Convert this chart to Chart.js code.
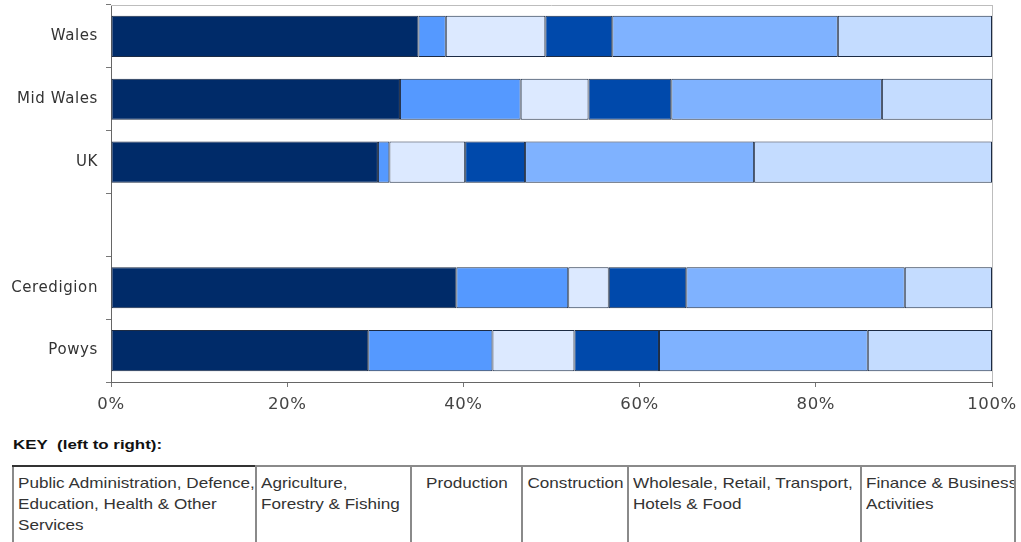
<!DOCTYPE html>
<html>
<head>
<meta charset="utf-8">
<script src="https://cdn.jsdelivr.net/npm/chart.js@4/dist/chart.umd.min.js"></script>
<style>
  html, body { margin:0; padding:0; background:#fff; width:1021px; height:542px; overflow:hidden; font-family:"Liberation Sans", Arial, sans-serif; }
  #wrap { position:absolute; left:0; top:0; width:1021px; height:420px; }
  #key { position:absolute; left:13px; top:437px; font-size:13.5px; font-weight:bold; color:#111; transform:scaleX(1.25); transform-origin:left top; white-space:nowrap; }
  #tbl { position:absolute; left:12px; top:465px; height:90px; border-collapse:collapse; table-layout:fixed; }
  #tbl td { border:2px solid #8a8a8a; border-bottom:none; vertical-align:top; font-size:14.5px; line-height:21px; color:#333; padding:6px 3px 0 4px; height:90px; box-sizing:border-box; overflow:hidden; white-space:nowrap; }
  #tbl td:first-child { border-top-color:#333; }
  #tbl td .t { transform:scaleX(1.18); transform-origin:left top; }
  #tbl td.c .t { text-align:center; transform-origin:center top; }
</style>
</head>
<body>
<div id="wrap"><canvas id="c" width="1021" height="420"></canvas></div>
<div id="key">KEY&nbsp; (left to right):</div>
<table id="tbl"><tr id="row"></tr></table>
<script>
const categories = ["Wales", "Mid Wales", "UK", "", "Ceredigion", "Powys"];
const seriesNames = [
  "Public Administration, Defence, Education, Health & Other Services",
  "Agriculture, Forestry & Fishing",
  "Production",
  "Construction",
  "Wholesale, Retail, Transport, Hotels & Food",
  "Finance & Business Activities"
];
const publicAdmin  = [34.9, 32.8, 30.3, null, 39.2, 29.2];
const agriculture  = [3.1, 13.7, 1.3, null, 12.7, 14.1];
const production   = [11.3, 7.7, 8.6, null, 4.6, 9.3];
const construction = [7.6, 9.4, 6.8, null, 8.8, 9.6];
const wholesale    = [25.6, 23.9, 26.0, null, 24.8, 23.7];
const finance      = [17.5, 12.5, 27.0, null, 9.9, 14.1];
const xTicks = [0, 20, 40, 60, 80, 100];

const colors = ["#002B69", "#5599FF", "#DCE9FF", "#0049AB", "#7FB2FF", "#C4DCFF"];
const seriesData = [publicAdmin, agriculture, production, construction, wholesale, finance];

// legend table
const keyHtml = [
  ["Public Administration, Defence,<br>Education, Health &amp; Other<br>Services", 243, ""],
  ["Agriculture,<br>Forestry &amp; Fishing", 155, ""],
  ["Production", 111, "c"],
  ["Construction", 106, "c"],
  ["Wholesale, Retail, Transport,<br>Hotels &amp; Food", 233, ""],
  ["Finance &amp; Business<br>Activities", 154, ""]
];
const row = document.getElementById("row");
keyHtml.forEach(k => {
  const td = document.createElement("td");
  td.innerHTML = '<div class="t">' + k[0] + '</div>';
  td.style.width = k[1] + "px";
  if (k[2]) td.className = k[2];
  row.appendChild(td);
});

const frame = {
  id: "frame",
  beforeDraw(chart) {
    chart.ctx.letterSpacing = "0.6px";
  },
  afterDatasetsDraw(chart) {
    const a = chart.chartArea, ctx = chart.ctx;
    ctx.save();
    ctx.lineWidth = 1;
    ctx.strokeStyle = "#bdbdbd";
    ctx.beginPath();
    ctx.moveTo(a.left, a.top + 0.5); ctx.lineTo(a.right, a.top + 0.5);
    ctx.moveTo(a.right + 0.5, a.top); ctx.lineTo(a.right + 0.5, a.bottom);
    ctx.stroke();
    ctx.restore();
  }
};

new Chart(document.getElementById("c"), {
  type: "bar",
  data: {
    labels: categories,
    datasets: seriesData.map((d, i) => ({
      label: seriesNames[i],
      data: d,
      backgroundColor: colors[i],
      borderColor: "#1c2b44",
      borderWidth: 1,
      borderSkipped: false,
      barPercentage: 0.655,
      categoryPercentage: 1.0
    }))
  },
  options: {
    indexAxis: "y",
    responsive: false,
    animation: false,
    devicePixelRatio: 1,
    layout: { padding: { top: 5, right: 29, left: 0, bottom: 0 } },
    plugins: { legend: { display: false }, tooltip: { enabled: false } },
    scales: {
      x: {
        stacked: true,
        min: 0, max: 100,
        afterBuildTicks(s) { s.ticks = xTicks.map(v => ({ value: v })); },
        afterFit(s) { s.height = 38; s.paddingLeft = 0; s.paddingRight = 0; },
        grid: { display: true, drawOnChartArea: false, drawTicks: true, tickLength: 5, color: "#777" },
        border: { display: true, color: "#666", width: 1 },
        ticks: { callback: v => v + "%", color: "#444", font: { family: "DejaVu Sans", size: 16.5 }, padding: 8, maxRotation: 0 }
      },
      y: {
        stacked: true,
        afterFit(s) { s.width = 111; s.paddingTop = 0; s.paddingBottom = 0; },
        grid: { display: true, drawOnChartArea: false, drawTicks: true, tickLength: 5, offset: true, color: "#777" },
        border: { display: true, color: "#666", width: 1 },
        ticks: { color: "#333", font: { family: "DejaVu Sans", size: 15 }, padding: 8 }
      }
    }
  },
  plugins: [frame]
});
</script>
</body>
</html>
